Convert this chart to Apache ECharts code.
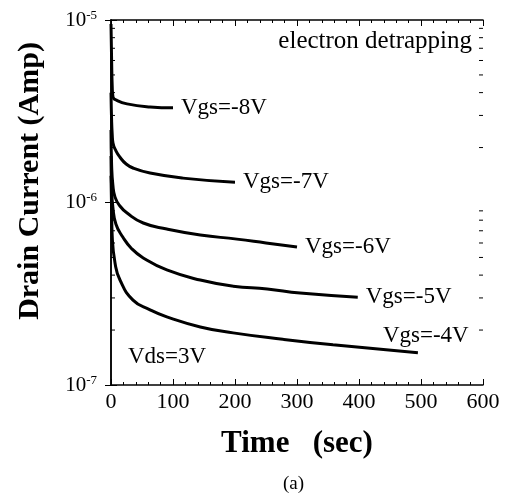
<!DOCTYPE html>
<html>
<head>
<meta charset="utf-8">
<script src="https://cdn.jsdelivr.net/npm/echarts@6/dist/echarts.min.js"></script>
<style>html,body{margin:0;padding:0;background:#fff}#c{width:509px;height:497px}</style>
</head>
<body>
<div id="c"></div>
<script>
// Data (time in sec, drain current in A)
const t8 = [0, 1, 2, 3.2, 10, 25.8, 63, 100];
const i8 = [9.5e-6, 6.0e-6, 4.3e-6, 3.79e-6, 3.62e-6, 3.47e-6, 3.34e-6, 3.30e-6];
const t7 = [0, 1, 2, 3.2, 8, 14.5, 24, 35.5, 63, 116, 200];
const i7 = [4.0e-6, 2.8e-6, 2.35e-6, 2.12e-6, 1.92e-6, 1.77e-6, 1.63e-6, 1.545e-6, 1.45e-6, 1.36e-6, 1.29e-6];
const t6 = [0, 1, 3, 6.5, 14, 26, 52, 90, 144, 203, 250, 300];
const i6 = [2.5e-6, 1.6e-6, 1.25e-6, 1.07e-6, 9.6e-7, 8.75e-7, 7.72e-7, 7.16e-7, 6.64e-7, 6.3e-7, 6.0e-7, 5.70e-7];
const t5 = [0, 1, 3, 8, 19, 33, 52, 90, 144, 197, 252, 305, 398];
const i5 = [1.8e-6, 1.2e-6, 9.44e-7, 7.6e-7, 6.47e-7, 5.6e-7, 4.97e-7, 4.27e-7, 3.76e-7, 3.48e-7, 3.36e-7, 3.19e-7, 3.03e-7];
const t4 = [0, 1, 2, 6.5, 14.5, 35.5, 63, 90, 144, 197, 277, 358, 495];
const i4 = [1.4e-6, 9.0e-7, 6.5e-7, 4.66e-7, 3.76e-7, 2.92e-7, 2.58e-7, 2.36e-7, 2.08e-7, 1.93e-7, 1.78e-7, 1.66e-7, 1.50e-7];
const seriesNames = ['Vgs=-8V', 'Vgs=-7V', 'Vgs=-6V', 'Vgs=-5V', 'Vgs=-4V'];
const minorTickValues = [2e-7,3e-7,4e-7,5e-7,6e-7,7e-7,8e-7,9e-7,2e-6,3e-6,4e-6,5e-6,6e-6,7e-6,8e-6,9e-6];

const serif = '"Liberation Serif", "DejaVu Serif", serif';
const zip = (t, v) => t.map((x, k) => [x, v[k]]);
const sets = [zip(t8,i8), zip(t7,i7), zip(t6,i6), zip(t5,i5), zip(t4,i4)];

const chart = echarts.init(document.getElementById('c'), null, {renderer: 'canvas'});
const axisLine = {show: true, lineStyle: {color: '#000', width: 1.5}};

const lineSeries = sets.map((d, k) => ({
  type: 'line', name: seriesNames[k], data: d, showSymbol: false, symbol: 'none',
  smooth: 0.5,
  lineStyle: {color: '#000', width: 3}, itemStyle: {color: '#000'},
  endLabel: {
    show: true, formatter: seriesNames[k], distance: 8,
    fontFamily: serif, fontSize: 23, color: '#000',
    offset: k === 4 ? [-43, -17] : [0, 0]
  },
  z: 3, silent: true, animation: false
}));

chart.setOption({
  animation: false,
  backgroundColor: '#fff',
  grid: {left: 111, right: 26, top: 20, bottom: 112, containLabel: false},
  xAxis: [{
    type: 'value', min: 0, max: 600, interval: 100,
    axisLine: axisLine,
    axisTick: {inside: true, length: 6, lineStyle: {color: '#000', width: 1}},
    minorTick: {show: true, splitNumber: 5, length: 3, lineStyle: {color: '#000', width: 1}},
    splitLine: {show: false},
    axisLabel: {margin: 6, fontFamily: serif, fontSize: 22, color: '#000'},
    name: 'Time   (sec)', nameLocation: 'middle', nameGap: 43,
    nameTextStyle: {fontFamily: serif, fontSize: 31, fontWeight: 'bold', color: '#000'}
  }, {
    type: 'value', min: 0, max: 600, interval: 100, position: 'top',
    axisLine: axisLine,
    axisTick: {inside: true, length: 6, lineStyle: {color: '#000', width: 1}},
    minorTick: {show: true, splitNumber: 5, length: 3, lineStyle: {color: '#000', width: 1}},
    splitLine: {show: false}, axisLabel: {show: false}
  }],
  yAxis: [{
    type: 'log', logBase: 10, min: 1e-7, max: 1e-5,
    axisLine: axisLine,
    axisTick: {inside: true, length: 6, lineStyle: {color: '#000', width: 1}},
    splitLine: {show: false},
    axisLabel: {
      margin: 14, color: '#000',
      formatter: function (v) { return '{b|10}{s|' + Math.round(Math.log10(v)) + '}'; },
      rich: {
        b: {fontFamily: serif, fontSize: 21, color: '#000', lineHeight: 22},
        s: {fontFamily: serif, fontSize: 13, color: '#000', verticalAlign: 'top', lineHeight: 12}
      }
    }
  }, {
    type: 'log', logBase: 10, min: 1e-7, max: 1e-5, position: 'right',
    axisLine: axisLine,
    axisTick: {inside: true, length: 6, lineStyle: {color: '#000', width: 1}},
    splitLine: {show: false}, axisLabel: {show: false}
  }],
  graphic: [
    {type: 'text', x: 30, y: 181, rotation: Math.PI / 2,
     style: {text: 'Drain Current (Amp)', font: 'bold 30px ' + serif, fill: '#000', align: 'center', verticalAlign: 'middle'}},
    {type: 'text', right: 37, top: 29, style: {text: 'electron detrapping', font: '25px ' + serif, fill: '#000'}},
    {type: 'text', left: 128, top: 345, style: {text: 'Vds=3V', font: '23px ' + serif, fill: '#000'}},
    {type: 'text', left: 283, top: 475, style: {text: '(a)', font: '19px ' + serif, fill: '#000'}}
  ],
  series: lineSeries.concat([{
    type: 'custom', name: 'minorTicks', silent: true, clip: false, z: 2,
    data: minorTickValues.map(v => [0, v]),
    renderItem: function (params, api) {
      const v = api.value(1);
      const p0 = api.coord([0, v]);
      const p1 = api.coord([600, v]);
      const st = {stroke: '#000', lineWidth: 1};
      return {type: 'group', children: [
        {type: 'line', shape: {x1: p0[0], y1: p0[1], x2: p0[0] + 4, y2: p0[1]}, style: st},
        {type: 'line', shape: {x1: p1[0], y1: p1[1], x2: p1[0] - 4, y2: p1[1]}, style: st}
      ]};
    }
  }])
});
</script>
</body>
</html>
